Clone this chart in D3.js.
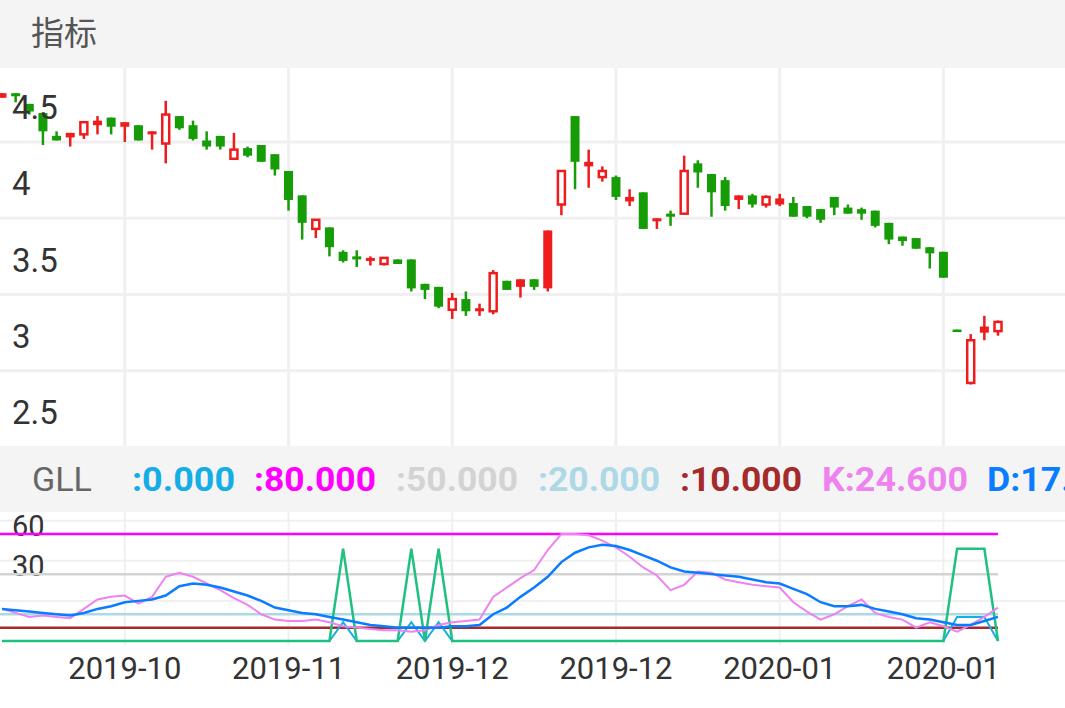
<!DOCTYPE html>
<html><head><meta charset="utf-8">
<script src="https://cdn.jsdelivr.net/npm/d3@7"></script>
<style>body{margin:0;background:#fff}svg{display:block;font-family:Roboto,"Noto Sans CJK SC",sans-serif}</style>
</head><body><svg id="c" width="1065" height="708"></svg>
<script>
// K线数据 (open, high, low, close)
const opens  = [4.79,4.82,4.75,4.69,4.54,4.53,4.55,4.61,4.66,4.60,4.61,4.55,4.49,4.67,4.61,4.51,4.54,4.39,4.46,4.48,4.42,4.31,4.15,3.93,3.94,3.78,3.75,3.72,3.70,3.73,3.73,3.57,3.55,3.40,3.47,3.39,3.39,3.59,3.55,3.60,3.54,4.09,4.67,4.34,4.27,4.27,4.11,4.17,3.98,4.03,4.03,4.36,4.29,4.25,4.12,4.15,4.09,4.09,4.10,4.08,4.06,4.14,4.07,4.06,4.05,3.97,3.88,3.87,3.81,3.78,3.27,2.92,3.25,3.26];
const highs  = [4.82,4.82,4.75,4.69,4.57,4.56,4.63,4.67,4.66,4.63,4.61,4.57,4.77,4.67,4.64,4.57,4.54,4.56,4.47,4.48,4.42,4.31,4.15,3.99,3.94,3.79,3.79,3.75,3.74,3.73,3.73,3.57,3.55,3.51,3.52,3.44,3.66,3.59,3.60,3.60,3.92,4.31,4.67,4.45,4.34,4.28,4.19,4.17,4.00,4.05,4.41,4.38,4.29,4.27,4.15,4.16,4.15,4.16,4.14,4.08,4.06,4.14,4.09,4.07,4.05,3.97,3.88,3.87,3.81,3.78,3.27,3.24,3.36,3.33];
const lows   = [4.79,4.76,4.68,4.48,4.51,4.47,4.52,4.55,4.55,4.50,4.51,4.45,4.36,4.58,4.51,4.45,4.45,4.39,4.40,4.37,4.28,4.05,3.86,3.87,3.75,3.71,3.68,3.69,3.69,3.70,3.52,3.47,3.41,3.34,3.36,3.36,3.37,3.53,3.48,3.53,3.52,4.02,4.19,4.20,4.24,4.12,4.08,3.93,3.93,3.95,4.03,4.20,4.01,4.05,4.06,4.07,4.07,4.08,4.01,4.00,3.97,4.02,4.03,3.99,3.94,3.83,3.82,3.80,3.67,3.61,3.26,2.91,3.20,3.23];
const closes = [4.82,4.80,4.70,4.57,4.51,4.56,4.63,4.64,4.60,4.63,4.51,4.57,4.68,4.59,4.52,4.47,4.47,4.45,4.41,4.37,4.32,4.12,3.97,3.99,3.81,3.72,3.73,3.74,3.74,3.70,3.54,3.53,3.42,3.47,3.39,3.41,3.64,3.53,3.60,3.55,3.92,4.31,4.37,4.37,4.31,4.14,4.14,3.93,4.00,4.01,4.31,4.30,4.17,4.08,4.15,4.09,4.14,4.13,4.01,4.01,3.99,4.07,4.03,4.03,3.95,3.86,3.85,3.80,3.77,3.61,3.26,3.20,3.29,3.32];
// 空心阳线
const hollowIdx = [6,12,17,23,28,33,36,41,44,50,56,71,73];

// 指标
const kVals = [24,21,18,19,18,17,24,31,33,34,28,33,48,51,48,43,38,32,27,20,16,15,15,16,14,11,10,9,8,8,7,8,12,14,15,16,33,40,47,53,68,80,80,79,75,70,63,55,49,38,42,52,51,46,44,42,41,40,29,22,16,20,26,31,21,18,16,10,14,11,7,12,18,25];
const dVals = [24,23,22,21,20,19,21,24,26,29,30,31,34,41,43,42,40,37,34,30,25,23,21,20,18,16,14,12,11,10,10,10,10,11,11,12,20,25,33,40,48,59,66,70,72,71,68,64,60,55,52,51,50,49,48,46,44,43,39,35,29,26,26,27,24,22,20,17,16,14,12,12,15,18];
const spikeIdx = [25,30,32,70,71,72];
const gVals = kVals.map((_, i) => spikeIdx.includes(i) ? 69 : 0);
const cVals = kVals.map((_, i) => [25,30,32].includes(i) ? 14 : ([70,71,72].includes(i) ? 18 : 0));
const refLines = [
  { v: 80, color: '#ff00ff' }, { v: 50, color: '#d3d3d3' },
  { v: 20, color: '#add8e6' }, { v: 10, color: '#a52a2a' }
];
const legend = [
  { t: 'GLL', c: '#666', x: 32, w: 'normal', len: 60 },
  { t: ':0.000', c: '#14ade6', x: 132, len: 103 }, { t: ':80.000', c: '#ff00ff', x: 254, len: 122 },
  { t: ':50.000', c: '#d3d3d3', x: 396, len: 122 }, { t: ':20.000', c: '#add8e6', x: 538, len: 122 },
  { t: ':10.000', c: '#a52a2a', x: 680, len: 122 }, { t: 'K:24.600', c: '#ee82ee', x: 822, len: 146 },
  { t: 'D:17.000', c: '#0a7cff', x: 987, len: 146 }
];
const priceTicks = [2.5, 3, 3.5, 4, 4.5];
const subTicks = [30, 60];
const dateTicks = [9, 21, 33, 45, 57, 69];
const dateLabels = ['2019-10','2019-11','2019-12','2019-12','2020-01','2020-01'];

const svg = d3.select('#c');
const W = 1065;
const x = d3.scaleLinear().domain([0, 73]).range([2, 998]);
const y = d3.scaleLinear().domain([2.5, 4.5]).range([447, 142]);
const ys = d3.scaleLinear().domain([0, 80]).range([641, 534]);

// 背景
svg.append('rect').attr('width', W).attr('height', 68).attr('fill', '#f4f4f4');
svg.append('text').attr('x', 31).attr('y', 45).attr('font-size', 33).attr('fill', '#555').text('指标');
svg.append('rect').attr('y', 446).attr('width', W).attr('height', 66).attr('fill', '#f4f4f4');

// 网格
const grid = svg.append('g').attr('stroke', '#f0f0f0').attr('stroke-width', 3);
dateTicks.forEach(i => {
  grid.append('line').attr('x1', x(i)).attr('x2', x(i)).attr('y1', 68).attr('y2', 446);
  grid.append('line').attr('x1', x(i)).attr('x2', x(i)).attr('y1', 512).attr('y2', 645).attr('stroke-width', 2);
});
priceTicks.slice(1).forEach(p => grid.append('line').attr('x1', 0).attr('x2', W).attr('y1', y(p)).attr('y2', y(p)));
[30, 60, 90].forEach(v => grid.append('line').attr('x1', 0).attr('x2', W).attr('y1', ys(v)).attr('y2', ys(v)).attr('stroke-width', 2));

// 蜡烛
const bw = 9;
const candles = svg.append('g').selectAll('g').data(opens).join('g');
candles.each(function(o, i) {
  const g = d3.select(this);
  const up = closes[i] >= o;
  const col = up ? '#ee1c1c' : '#169c06';
  const hollow = hollowIdx.includes(i);
  const top = y(Math.max(o, closes[i])), bot = y(Math.min(o, closes[i]));
  g.append('line').attr('x1', x(i)).attr('x2', x(i)).attr('y1', y(highs[i])).attr('y2', y(lows[i]))
    .attr('stroke', col).attr('stroke-width', 2.5);
  if (hollow) {
    g.append('rect').attr('x', x(i) - bw / 2 + 1).attr('y', top).attr('width', bw - 2).attr('height', Math.max(bot - top, 2))
      .attr('fill', '#fff').attr('stroke', col).attr('stroke-width', 2.5);
  } else {
    g.append('rect').attr('x', x(i) - bw / 2).attr('y', top).attr('width', bw).attr('height', Math.max(bot - top, 2.5))
      .attr('fill', col);
  }
});

// 价格轴标签
svg.append('g').selectAll('text').data(priceTicks).join('text')
  .attr('x', 12).attr('y', d => y(d) - 23).attr('font-size', 33).attr('fill', '#333').text(d => d);

// 图例
svg.append('g').selectAll('text').data(legend).join('text')
  .attr('x', d => d.x).attr('y', 491).attr('font-size', 33).attr('font-weight', d => d.w || 'bold')
  .attr('fill', d => d.c).attr('textLength', d => d.len).attr('lengthAdjust', 'spacingAndGlyphs').text(d => d.t);

// 副图
svg.append('g').selectAll('text').data(subTicks).join('text')
  .attr('x', 12).attr('y', d => ys(d) - 25).attr('font-size', 29).attr('fill', '#333').text(d => d);
refLines.forEach(r => svg.append('line').attr('x1', 0).attr('x2', x(73)).attr('y1', ys(r.v)).attr('y2', ys(r.v))
  .attr('stroke', r.color).attr('stroke-width', 2.5));
const line = d3.line().x((d, i) => x(i)).y(d => ys(d));
[[cVals, '#14ade6', 2], [gVals, '#20c080', 2.5], [kVals, '#ee82ee', 2], [dVals, '#0a7cff', 2.5]].forEach(([v, c, w]) =>
  svg.append('path').datum(v).attr('d', line).attr('fill', 'none').attr('stroke', c).attr('stroke-width', w));

// 日期
svg.append('g').selectAll('text').data(dateTicks).join('text')
  .attr('x', d => x(d)).attr('y', 679).attr('text-anchor', 'middle').attr('font-size', 31).attr('fill', '#333')
  .text((d, i) => dateLabels[i]);
</script></body></html>
